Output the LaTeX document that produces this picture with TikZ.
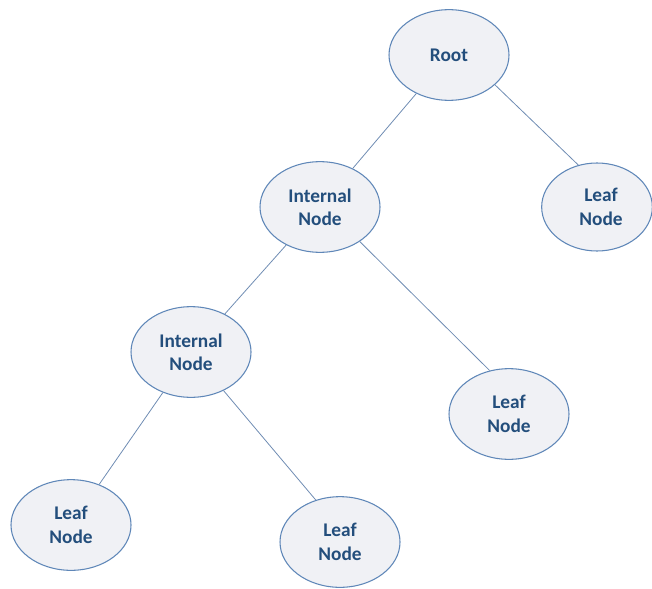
\documentclass[tikz,border=0pt]{standalone}
\usepackage{fontspec}
\setmainfont{Carlito}
\usetikzlibrary{shapes.geometric}
\definecolor{nodefill}{HTML}{F0F1F5}
\definecolor{nodeedge}{HTML}{5F87B8}
\definecolor{nodetext}{HTML}{234E7C}
\definecolor{linkcol}{HTML}{6F8CB3}
\tikzset{
  treenode/.style={ellipse, draw=nodeedge, line width=0.8pt, fill=nodefill,
    minimum width=90pt, minimum height=68pt, inner sep=0pt,
    text=nodetext, align=center,
    font=\fontsize{14.5pt}{17.5pt}\selectfont\bfseries},
  link/.style={draw=linkcol, line width=0.6pt}
}
\begin{document}
\begin{tikzpicture}[x=0.75pt, y=-0.75pt]
  \useasboundingbox (0,0) rectangle (652,588);
  \node[treenode] (root) at (449,55) {Root};
  \node[treenode] (int1) at (320,207) {Internal\\Node};
  \node[treenode, minimum width=83pt, minimum height=66pt] (leafR) at (597,207) {\hspace*{6pt}Leaf\\\hspace*{6pt}Node};
  \node[treenode] (int2) at (191,352) {Internal\\Node};
  \node[treenode] (leafM) at (509,414) {Leaf\\Node};
  \node[treenode] (leafBL) at (71,525) {Leaf\\Node};
  \node[treenode] (leafBM) at (340,542) {Leaf\\Node};
  \path[link] (root) -- (int1);
  \path[link] (root.-33) -- (leafR.114);
  \path[link] (int1) -- (int2);
  \path[link] (int1.-41) -- (leafM.114);
  \path[link] (int2) -- (leafBL);
  \path[link] (int2) -- (leafBM.120);
\end{tikzpicture}
\end{document}
